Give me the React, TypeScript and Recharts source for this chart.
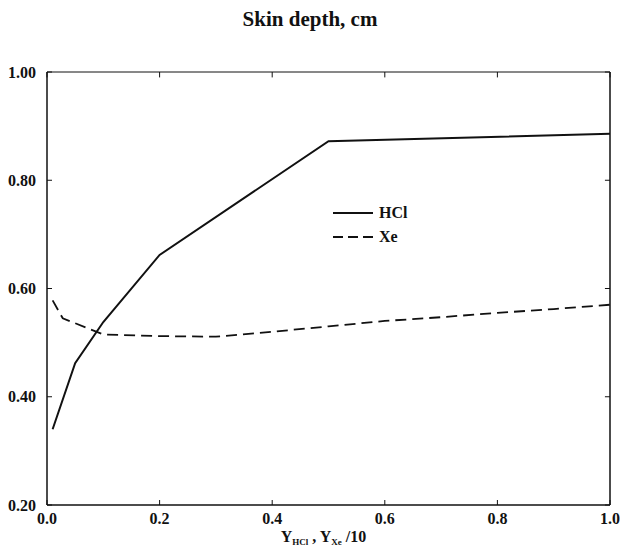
import { Line, LineChart, XAxis, YAxis, Label, ReferenceLine } from 'recharts';

const hclX = [0.01, 0.05, 0.1, 0.2, 0.5, 1.0];
const hclY = [0.34, 0.462, 0.538, 0.662, 0.872, 0.886];

const xeX = [0.01, 0.028, 0.1, 0.2, 0.3, 0.4, 0.5, 0.6, 0.7, 0.8, 0.9, 1.0];
const xeY = [0.578, 0.545, 0.515, 0.512, 0.511, 0.52, 0.53, 0.54, 0.547, 0.555, 0.562, 0.57];

const xTicks = [0, 0.2, 0.4, 0.6, 0.8, 1.0];
const yTicks = [0.2, 0.4, 0.6, 0.8, 1.0];

const hclData = hclX.map((x, i) => ({ x, y: hclY[i] }));
const xeData = xeX.map((x, i) => ({ x, y: xeY[i] }));

const font = '"Liberation Serif", "Times New Roman", serif';
const tickStyle = { fontFamily: font, fontWeight: 700, fontSize: 16, fill: '#111' };

function XTitle(props: any) {
  const vb = props.viewBox;
  const cx = vb.x + vb.width / 2 - 5;
  return (
    <text x={cx} y={vb.y + 37} textAnchor="middle" fontFamily={font} fontWeight={700} fontSize={16} fill="#111">
      <tspan>Y</tspan>
      <tspan fontSize={9} dy={3}>HCl</tspan>
      <tspan dy={-3}> , Y</tspan>
      <tspan fontSize={9} dy={3}>Xe</tspan>
      <tspan dy={-3}> /10</tspan>
    </text>
  );
}

function LegendBox() {
  const row = (label: string, dash?: string) => (
    <div style={{ display: 'flex', alignItems: 'center', height: 24 }}>
      <svg width={42} height={6}>
        <line x1={0} y1={3} x2={40} y2={3} stroke="#111" strokeWidth={2} strokeDasharray={dash} />
      </svg>
      <span style={{ marginLeft: 4, fontFamily: font, fontWeight: 700, fontSize: 16, color: '#111' }}>{label}</span>
    </div>
  );
  return (
    <div style={{ position: 'absolute', left: 333, top: 201 }}>
      {row('HCl')}
      {row('Xe', '10 5')}
    </div>
  );
}

export default function App() {
  return (
    <div style={{ position: 'absolute', left: 0, top: 0, width: 620, height: 551, background: '#fff' }}>
      <div
        style={{
          position: 'absolute',
          left: 0,
          top: 7,
          width: 620,
          textAlign: 'center',
          fontFamily: font,
          fontWeight: 700,
          fontSize: 21,
          color: '#111',
        }}
      >
        Skin depth, cm
      </div>
      <LineChart width={620} height={551} margin={{ top: 72, right: 10, left: 0, bottom: 0 }}>
        <XAxis
          type="number"
          dataKey="x"
          domain={[0, 1]}
          ticks={xTicks}
          tickFormatter={(v: number) => v.toFixed(1)}
          tick={tickStyle}
          tickSize={-5}
          tickMargin={13}
          height={46}
          stroke="#111"
          axisLine={{ stroke: '#111', strokeWidth: 1.5 }}
          allowDataOverflow
        >
          <Label content={<XTitle />} />
        </XAxis>
        <YAxis
          type="number"
          dataKey="y"
          domain={[0.2, 1.0]}
          ticks={yTicks}
          tickFormatter={(v: number) => v.toFixed(2)}
          tick={tickStyle}
          tickSize={-5}
          tickMargin={16}
          width={47}
          stroke="#111"
          axisLine={{ stroke: '#111', strokeWidth: 1.5 }}
          allowDataOverflow
        />
        <ReferenceLine y={1.0} stroke="#111" strokeWidth={1} />
        <ReferenceLine x={1.0} stroke="#111" strokeWidth={1.5} />
        {xTicks.map((t) => (
          <ReferenceLine
            key={'tx' + t}
            segment={[
              { x: t, y: 1.0 },
              { x: t, y: 0.99 },
            ]}
            stroke="#111"
          />
        ))}
        {yTicks.map((t) => (
          <ReferenceLine
            key={'ty' + t}
            segment={[
              { x: 1.0, y: t },
              { x: 0.991, y: t },
            ]}
            stroke="#111"
          />
        ))}
        <Line
          data={hclData}
          dataKey="y"
          type="linear"
          stroke="#111"
          strokeWidth={2}
          dot={false}
          isAnimationActive={false}
        />
        <Line
          data={xeData}
          dataKey="y"
          type="linear"
          stroke="#111"
          strokeWidth={1.8}
          strokeDasharray="11 6"
          dot={false}
          isAnimationActive={false}
        />
      </LineChart>
      <LegendBox />
    </div>
  );
}
